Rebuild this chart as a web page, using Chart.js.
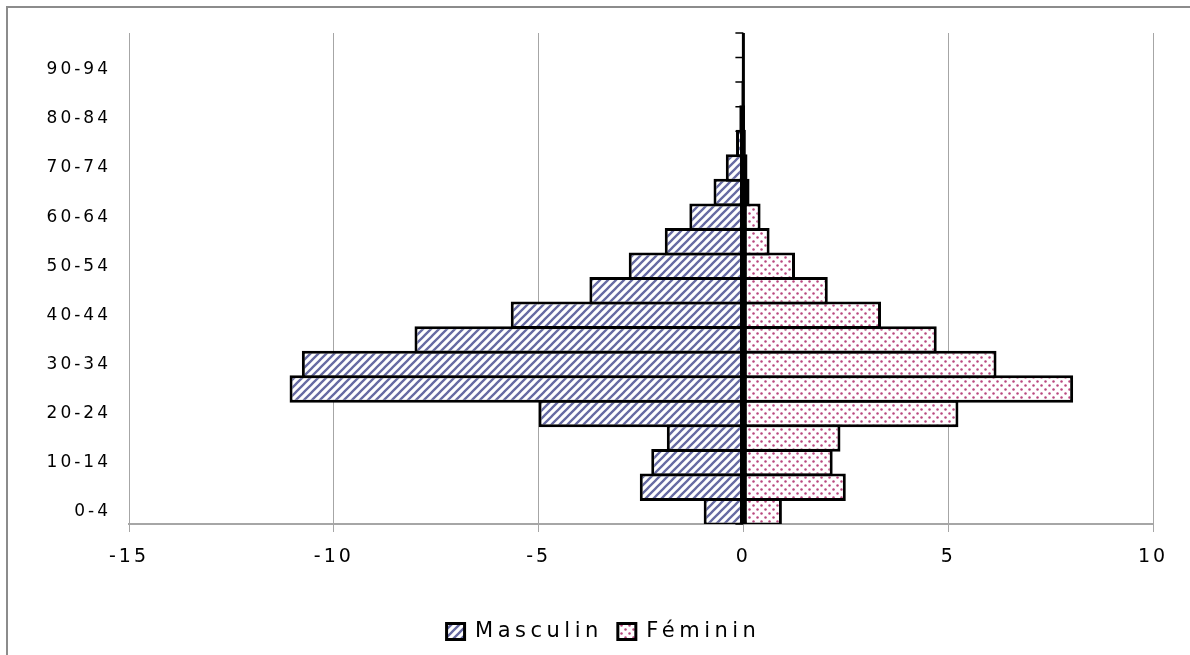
<!DOCTYPE html>
<html>
<head>
<meta charset="utf-8">
<script src="https://cdn.jsdelivr.net/npm/chart.js@4.4.0/dist/chart.umd.min.js"></script>
<style>
  html, body { margin: 0; padding: 0; background: #fff; }
  #wrap { position: relative; width: 1190px; height: 655px; }
</style>
</head>
<body>
<div id="wrap"><canvas id="pyramid" width="1190" height="655"></canvas></div>
<script>
// age groups, bottom to top
var categories = ['0-4', '5-9', '10-14', '15-19', '20-24', '25-29', '30-34', '35-39', '40-44', '45-49',
                  '50-54', '55-59', '60-64', '65-69', '70-74', '75-79', '80-84', '85-89', '90-94', '95-99'];
var masculin = [-0.97, -2.53, -2.25, -1.87, -5.0, -11.08, -10.78, -8.03, -5.68, -3.76,
                -2.80, -1.92, -1.32, -0.73, -0.43, -0.18, -0.10, -0.05, -0.03, -0.01];
var feminin = [0.94, 2.50, 2.18, 2.37, 5.25, 8.05, 6.18, 4.72, 3.36, 2.06,
               1.26, 0.64, 0.42, 0.15, 0.10, 0.06, 0.04, 0.02, 0.01, 0.005];
var xTicks = [-15, -10, -5, 0, 5, 10];

// hatch fills
function stripes() {
    var c = document.createElement('canvas');
    c.width = 8; c.height = 8;
    var g = c.getContext('2d');
    g.fillStyle = '#fff';
    g.fillRect(0, 0, 8, 8);
    g.strokeStyle = '#666aa2';
    g.lineWidth = 2.3;
    g.beginPath();
    g.moveTo(-2, 10); g.lineTo(10, -2);
    g.moveTo(-6, 6); g.lineTo(6, -6);
    g.moveTo(2, 14); g.lineTo(14, 2);
    g.stroke();
    return g.createPattern(c, 'repeat');
}
function dots() {
    var c = document.createElement('canvas');
    c.width = 8; c.height = 8;
    var g = c.getContext('2d');
    g.fillStyle = '#fff';
    g.fillRect(0, 0, 8, 8);
    g.fillStyle = '#b9487f';
    g.beginPath(); g.arc(1.5, 1.5, 1.25, 0, Math.PI * 2); g.fill();
    g.beginPath(); g.arc(5.5, 5.5, 1.25, 0, Math.PI * 2); g.fill();
    return g.createPattern(c, 'repeat');
}

// Excel-like spaced lettering; legend a bit wider than the axes and nudged right
var spacing = {
    id: 'spacing',
    afterInit: function (chart) {
        var lg = chart.legend;
        if (!lg || lg._spaced) return;
        var upd = lg.update, drw = lg.draw;
        lg.update = function () {
            chart.ctx.letterSpacing = '4.5px';
            var r = upd.apply(this, arguments);
            chart.ctx.letterSpacing = '3px';
            return r;
        };
        lg.draw = function () {
            var c = chart.ctx;
            c.save();
            c.translate(12, 0);
            c.letterSpacing = '4.5px';
            drw.apply(this, arguments);
            c.restore();
            c.letterSpacing = '3px';
        };
        lg._spaced = true;
    },
    beforeUpdate: function (chart) { chart.ctx.letterSpacing = '3px'; },
    beforeDraw: function (chart) {
        var ctx = chart.ctx;
        ctx.letterSpacing = '3px';
        // outer frame
        ctx.save();
        ctx.strokeStyle = '#8c8c8c';
        ctx.lineWidth = 2;
        ctx.beginPath();
        ctx.moveTo(7, 655); ctx.lineTo(7, 7); ctx.lineTo(1190, 7);
        ctx.stroke();
        ctx.restore();
    }
};

var zeroAxis = {
    id: 'zeroAxis',
    afterDatasetsDraw: function (chart) {
        var ctx = chart.ctx, a = chart.chartArea, ys = chart.scales.y;
        var x0 = chart.scales.x.getPixelForValue(0);
        ctx.save();
        ctx.strokeStyle = '#000';
        ctx.lineWidth = 3;
        ctx.beginPath();
        ctx.moveTo(x0, a.top); ctx.lineTo(x0, a.bottom);
        ctx.stroke();
        ctx.lineWidth = 1.5;
        var step = Math.abs(ys.getPixelForValue(1) - ys.getPixelForValue(0));
        ctx.beginPath();
        for (var i = 0; i <= categories.length; i++) {
            var y = ys.getPixelForValue(i) + step / 2;
            ctx.moveTo(x0 - 8, y); ctx.lineTo(x0, y);
        }
        ctx.stroke();
        ctx.restore();
    }
};

var ctx = document.getElementById('pyramid').getContext('2d');

new Chart(ctx, {
    type: 'bar',
    data: {
        labels: categories,
        datasets: [{
            label: 'Masculin',
            data: masculin,
            backgroundColor: stripes(),
            borderColor: '#000',
            borderWidth: 3,
            borderSkipped: false
        }, {
            label: 'Féminin',
            data: feminin,
            backgroundColor: dots(),
            borderColor: '#000',
            borderWidth: 3,
            borderSkipped: false
        }]
    },
    options: {
        indexAxis: 'y',
        responsive: false,
        animation: false,
        barPercentage: 1.12,
        categoryPercentage: 1,
        layout: { padding: { top: 33, right: 37, left: 30, bottom: 3 } },
        scales: {
            x: {
                stacked: true,
                min: -15,
                max: 10,
                afterBuildTicks: function (scale) {
                    scale.ticks = xTicks.map(function (v) { return { value: v }; });
                },
                afterFit: function (scale) { scale.height = 82; },
                grid: {
                    color: '#a6a6a6',
                    lineWidth: 1,
                    drawTicks: true,
                    tickLength: 8
                },
                border: { color: '#a6a6a6', width: 2 },
                ticks: {
                    padding: 14,
                    color: '#000',
                    font: { family: 'DejaVu Sans', size: 19 }
                }
            },
            y: {
                stacked: true,
                reverse: true,
                afterFit: function (scale) { scale.width = 99; },
                grid: { display: false },
                border: { display: false },
                ticks: {
                    autoSkip: false,
                    padding: 10,
                    color: '#000',
                    font: { family: 'DejaVu Sans', size: 17 },
                    callback: function (v, i) { return i % 2 === 0 ? categories[i] : ''; }
                }
            }
        },
        plugins: {
            tooltip: { enabled: false },
            legend: {
                position: 'bottom',
                labels: {
                    boxWidth: 18,
                    boxHeight: 16,
                    padding: 15,
                    color: '#000',
                    font: { family: 'DejaVu Sans', size: 21 }
                }
            }
        }
    },
    plugins: [spacing, zeroAxis]
});
</script>
</body>
</html>
